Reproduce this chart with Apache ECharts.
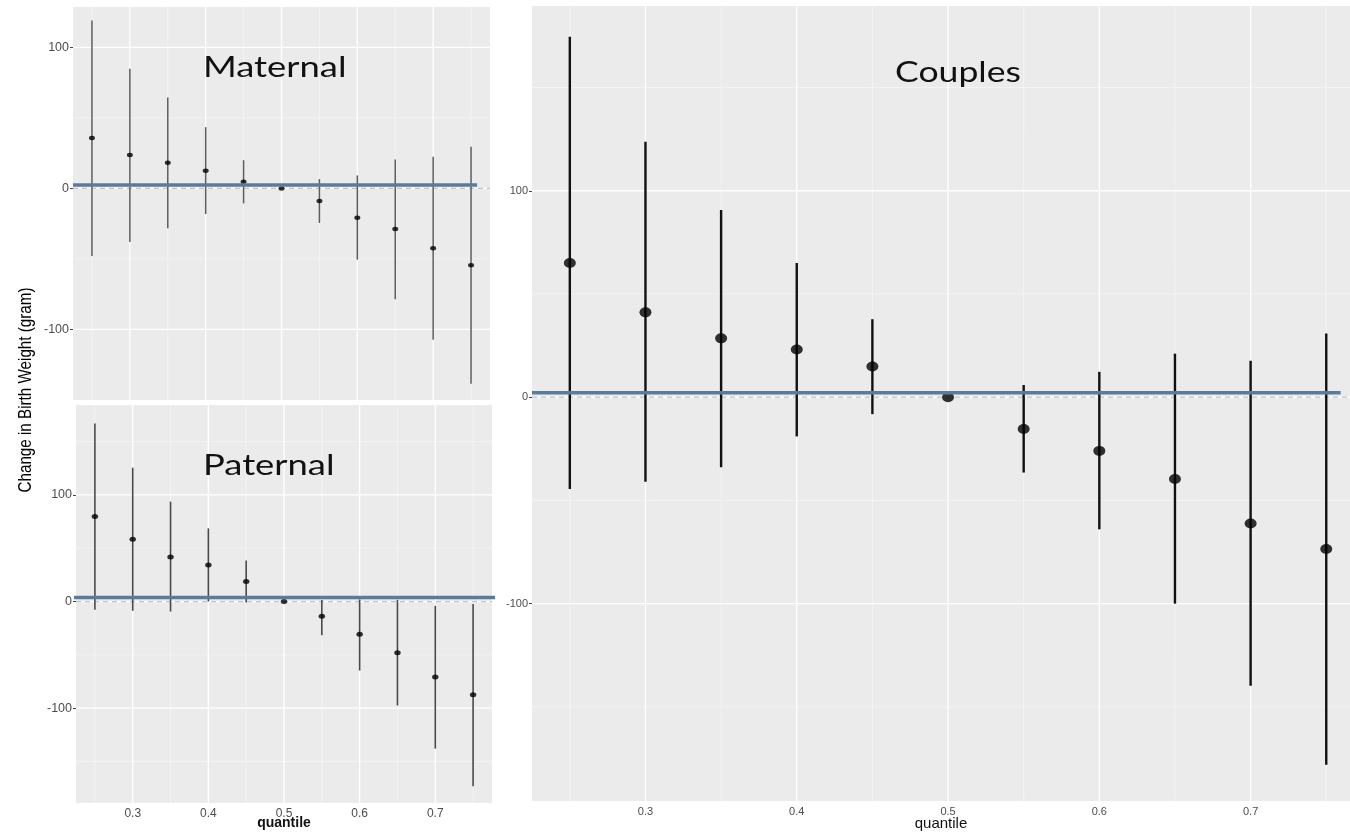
<!DOCTYPE html>
<html><head><meta charset="utf-8">
<script src="https://cdn.jsdelivr.net/npm/echarts@6/dist/echarts.min.js"></script>
<style>html,body{margin:0;padding:0;background:#fff}#c{width:1350px;height:832px}</style>
</head><body><div id="c"></div>
<script>
// ---- data ----
const quantiles = [0.25, 0.30, 0.35, 0.40, 0.45, 0.50, 0.55, 0.60, 0.65, 0.70, 0.75];

const maternalEst = [35.8, 23.6, 18.2, 12.5, 4.7, 0, -9.0, -20.8, -28.8, -42.5, -54.5];
const maternalLo  = [-47.9, -38.0, -28.3, -18.2, -10.6, 0, -24.5, -50.5, -78.5, -107.3, -138.4];
const maternalHi  = [119.0, 84.9, 64.4, 43.4, 20.0, 0, 6.6, 9.2, 20.5, 22.4, 29.5];

const paternalEst = [79.7, 58.4, 41.9, 34.4, 18.7, 0, -13.7, -30.6, -48.1, -70.9, -87.5];
const paternalLo  = [-7.8, -8.7, -9.4, 0, -0.9, 0, -31.6, -64.7, -97.5, -138.0, -173.4];
const paternalHi  = [167.0, 125.6, 93.7, 68.7, 38.4, 0, 1.5, 2.0, 1.6, -4.0, -2.2];

const couplesEst = [65.0, 41.1, 28.5, 23.1, 14.9, 0, -15.4, -26.0, -39.6, -61.2, -73.5];
const couplesLo  = [-44.5, -40.9, -33.9, -19.0, -8.2, 0, -36.5, -64.0, -100.0, -139.8, -178.1];
const couplesHi  = [174.6, 123.7, 90.7, 65.0, 37.8, 0, 5.9, 12.3, 21.1, 17.7, 30.8];

const panelNames = ['Maternal', 'Paternal', 'Couples'];
// blue reference line: level and x-extent per panel
const refLevel = [2.4, 3.7, 2.1];
const refStart = [0.225, 0.221, 0.225];
const refEnd   = [0.758, 0.780, 0.7595];

const xMajorTicks = [0.3, 0.4, 0.5, 0.6, 0.7];
const xMinorTicks = [0.25, 0.35, 0.45, 0.55, 0.65, 0.75];
const yMajorTicks = [-100, 0, 100];
const yMinorTicks = [-150, -50, 50, 150];

const xRange = [[0.225, 0.775], [0.225, 0.775], [0.225, 0.7657]];
const yRange = [[-150, 128.6], [-189, 184.4], [-195.6, 189.5]];

// ---- layout / style ----
const grids = [
  {left: 73, top: 7, width: 417, height: 393},
  {left: 76, top: 405, width: 416, height: 398},
  {left: 532, top: 6, width: 818, height: 795}
];
const barStyle = [
  {color: '#5e5e5e', width: 1.5},
  {color: '#4a4a4a', width: 1.6},
  {color: '#111111', width: 2.4}
];
const dotSize = [[6, 4.5], [6.5, 5], [12, 10]];
const labelSize = [12.5, 12.5, 11];
const BLUE = '#5a7c9c';

const ests = [maternalEst, paternalEst, couplesEst];
const los = [maternalLo, paternalLo, couplesLo];
const his = [maternalHi, paternalHi, couplesHi];

function gridData(i) {
  const d = [];
  const xr = xRange[i], yr = yRange[i];
  xMinorTicks.filter(v => v > xr[0] && v < xr[1]).forEach(v => d.push([1, v]));
  yMinorTicks.filter(v => v > yr[0] && v < yr[1]).forEach(v => d.push([3, v]));
  xMajorTicks.filter(v => v > xr[0] && v < xr[1]).forEach(v => d.push([0, v]));
  yMajorTicks.filter(v => v > yr[0] && v < yr[1]).forEach(v => d.push([2, v]));
  d.push([4, 0]);
  return d;
}
function gridRender(i) {
  return function (params, api) {
    const kind = api.value(0), v = api.value(1);
    const cs = params.coordSys;
    let shape, style;
    if (kind < 2) {
      const p = api.coord([v, yRange[i][0]]);
      shape = {x1: p[0], y1: cs.y, x2: p[0], y2: cs.y + cs.height};
    } else {
      const p = api.coord([xRange[i][0], v]);
      shape = {x1: cs.x, y1: p[1], x2: cs.x + cs.width, y2: p[1]};
    }
    if (kind === 0 || kind === 2) style = {stroke: '#ffffff', lineWidth: 1.3};
    else if (kind === 4) style = {stroke: '#c4c4c4', lineWidth: 1.2, lineDash: [5, 4]};
    else style = {stroke: '#f6f6f6', lineWidth: 0.7};
    return {type: 'line', shape: shape, style: style};
  };
}
function errRender(i) {
  return function (params, api) {
    const x = api.value(0), lo = api.value(1), hi = api.value(2);
    if (lo === hi) return null;
    const p1 = api.coord([x, lo]), p2 = api.coord([x, hi]);
    return {type: 'line', shape: {x1: p1[0], y1: p1[1], x2: p2[0], y2: p2[1]},
      style: {stroke: barStyle[i].color, lineWidth: barStyle[i].width}};
  };
}

const xAxes = [], yAxes = [], series = [];
for (let i = 0; i < 3; i++) {
  const showX = i > 0;
  xAxes.push({
    type: 'value', gridIndex: i, min: xRange[i][0], max: xRange[i][1],
    splitLine: {show: false}, axisLine: {show: false},
    axisTick: {show: showX, customValues: xMajorTicks, length: 3, lineStyle: {color: '#444', width: 1}},
    axisLabel: {show: showX, customValues: xMajorTicks, margin: 5, color: '#4d4d4d',
                fontSize: i === 1 ? 12 : 11, fontFamily: 'Liberation Sans'},
    name: showX ? 'quantile' : '', nameLocation: 'middle', nameGap: i === 1 ? 13 : 15,
    nameMoveOverlap: false,
    nameTextStyle: i === 1
      ? {fontWeight: 'bold', fontSize: 14, color: '#111', fontFamily: 'Liberation Sans'}
      : {fontWeight: 'normal', fontSize: 15, color: '#111', fontFamily: 'Liberation Sans'}
  });
  yAxes.push({
    type: 'value', gridIndex: i, min: yRange[i][0], max: yRange[i][1],
    splitLine: {show: false}, axisLine: {show: false},
    axisTick: {show: true, customValues: yMajorTicks, length: 3, lineStyle: {color: '#444', width: 1}},
    axisLabel: {customValues: yMajorTicks, margin: 4, color: '#4d4d4d', fontSize: labelSize[i], fontFamily: 'Liberation Sans'}
  });
  series.push({
    type: 'custom', xAxisIndex: i, yAxisIndex: i, z: 1, silent: true,
    renderItem: gridRender(i), data: gridData(i), encode: {x: 1, y: 1}
  });
  series.push({
    type: 'custom', xAxisIndex: i, yAxisIndex: i, z: 3, silent: true,
    renderItem: errRender(i), encode: {x: 0, y: [1, 2]},
    data: quantiles.map((q, k) => [q, los[i][k], his[i][k]])
  });
  series.push({
    type: 'scatter', xAxisIndex: i, yAxisIndex: i, z: 4, silent: true,
    symbol: 'circle', symbolSize: dotSize[i], itemStyle: {color: '#000'},
    data: quantiles.map((q, k) => [q, ests[i][k]])
  });
  series.push({
    type: 'line', xAxisIndex: i, yAxisIndex: i, z: 6, silent: true, clip: false,
    showSymbol: false, symbol: 'none', lineStyle: {color: BLUE, width: 3.5},
    data: [[refStart[i], refLevel[i]], [refEnd[i], refLevel[i]]]
  });
}

const titleFont = 'Lato, sans-serif';
const chart = echarts.init(document.getElementById('c'), null, {renderer: 'canvas'});
chart.setOption({
  animation: false,
  backgroundColor: '#ffffff',
  grid: grids.map(g => Object.assign({show: true, backgroundColor: '#ebebeb', borderWidth: 0,
    containLabel: false, outerBoundsMode: 'none'}, g)),
  xAxis: xAxes,
  yAxis: yAxes,
  series: series,
  graphic: [
    {type: 'text', x: 26, y: 390, rotation: Math.PI / 2, scaleX: 0.8, z: 10,
     style: {text: 'Change in Birth Weight (gram)', fontSize: 19, fontFamily: 'Liberation Sans, sans-serif',
             fill: '#000', align: 'center', verticalAlign: 'middle'}},
    {type: 'text', x: 203, y: 68, scaleX: 1.3, z: 10,
     style: {text: panelNames[0], fontSize: 28, fontFamily: titleFont, fill: '#111', align: 'left', verticalAlign: 'middle'}},
    {type: 'text', x: 203, y: 466, scaleX: 1.3, z: 10,
     style: {text: panelNames[1], fontSize: 28, fontFamily: titleFont, fill: '#111', align: 'left', verticalAlign: 'middle'}},
    {type: 'text', x: 895, y: 73, scaleX: 1.27, z: 10,
     style: {text: panelNames[2], fontSize: 28, fontFamily: titleFont, fill: '#111', align: 'left', verticalAlign: 'middle'}}
  ]
});
</script>
</body></html>
